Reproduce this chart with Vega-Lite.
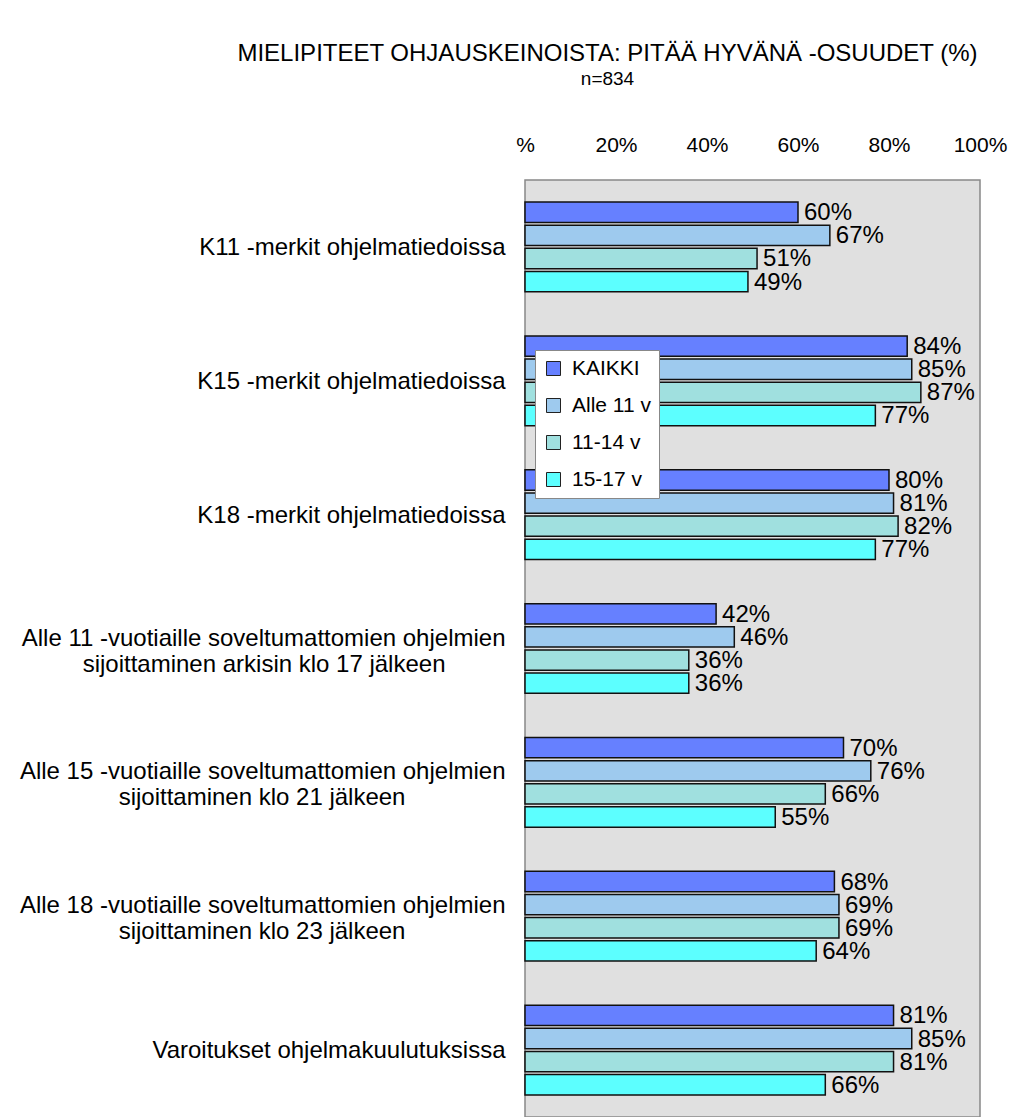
{
  "$schema": "https://vega.github.io/schema/vega-lite/v6.json",
  "autosize": {"type": "none"},
  "padding": {"left": 525, "top": 180, "right": 41, "bottom": 0},
  "width": 455,
  "height": 937,
  "background": "white",
  "title": {
    "text": "MIELIPITEET OHJAUSKEINOISTA: PITÄÄ HYVÄNÄ -OSUUDET (%)",
    "subtitle": "n=834",
    "anchor": "middle",
    "dx": -145,
    "offset": 45,
    "font": "Liberation Sans",
    "fontSize": 24,
    "fontWeight": "normal",
    "color": "#000000",
    "subtitleFont": "Liberation Sans",
    "subtitleFontSize": 19,
    "subtitleColor": "#000000",
    "subtitlePadding": 4
  },
  "config": {
    "view": {"fill": "#E0E0E0", "stroke": "#888888", "strokeWidth": 1.5},
    "font": "Liberation Sans"
  },
  "data": {
    "values": [
      {"item": "K11 -merkit ohjelmatiedoissa", "group": "KAIKKI", "value": 60},
      {"item": "K11 -merkit ohjelmatiedoissa", "group": "Alle 11 v", "value": 67},
      {"item": "K11 -merkit ohjelmatiedoissa", "group": "11-14 v", "value": 51},
      {"item": "K11 -merkit ohjelmatiedoissa", "group": "15-17 v", "value": 49},
      {"item": "K15 -merkit ohjelmatiedoissa", "group": "KAIKKI", "value": 84},
      {"item": "K15 -merkit ohjelmatiedoissa", "group": "Alle 11 v", "value": 85},
      {"item": "K15 -merkit ohjelmatiedoissa", "group": "11-14 v", "value": 87},
      {"item": "K15 -merkit ohjelmatiedoissa", "group": "15-17 v", "value": 77},
      {"item": "K18 -merkit ohjelmatiedoissa", "group": "KAIKKI", "value": 80},
      {"item": "K18 -merkit ohjelmatiedoissa", "group": "Alle 11 v", "value": 81},
      {"item": "K18 -merkit ohjelmatiedoissa", "group": "11-14 v", "value": 82},
      {"item": "K18 -merkit ohjelmatiedoissa", "group": "15-17 v", "value": 77},
      {"item": "Alle 11 -vuotiaille soveltumattomien ohjelmien|sijoittaminen arkisin klo 17 jälkeen\u00a0\u00a0\u00a0\u00a0\u00a0\u00a0\u00a0\u00a0\u00a0\u200b", "group": "KAIKKI", "value": 42},
      {"item": "Alle 11 -vuotiaille soveltumattomien ohjelmien|sijoittaminen arkisin klo 17 jälkeen\u00a0\u00a0\u00a0\u00a0\u00a0\u00a0\u00a0\u00a0\u00a0\u200b", "group": "Alle 11 v", "value": 46},
      {"item": "Alle 11 -vuotiaille soveltumattomien ohjelmien|sijoittaminen arkisin klo 17 jälkeen\u00a0\u00a0\u00a0\u00a0\u00a0\u00a0\u00a0\u00a0\u00a0\u200b", "group": "11-14 v", "value": 36},
      {"item": "Alle 11 -vuotiaille soveltumattomien ohjelmien|sijoittaminen arkisin klo 17 jälkeen\u00a0\u00a0\u00a0\u00a0\u00a0\u00a0\u00a0\u00a0\u00a0\u200b", "group": "15-17 v", "value": 36},
      {"item": "Alle 15 -vuotiaille soveltumattomien ohjelmien|sijoittaminen klo 21 jälkeen\u00a0\u00a0\u00a0\u00a0\u00a0\u00a0\u00a0\u00a0\u00a0\u00a0\u00a0\u00a0\u00a0\u00a0\u00a0\u200b", "group": "KAIKKI", "value": 70},
      {"item": "Alle 15 -vuotiaille soveltumattomien ohjelmien|sijoittaminen klo 21 jälkeen\u00a0\u00a0\u00a0\u00a0\u00a0\u00a0\u00a0\u00a0\u00a0\u00a0\u00a0\u00a0\u00a0\u00a0\u00a0\u200b", "group": "Alle 11 v", "value": 76},
      {"item": "Alle 15 -vuotiaille soveltumattomien ohjelmien|sijoittaminen klo 21 jälkeen\u00a0\u00a0\u00a0\u00a0\u00a0\u00a0\u00a0\u00a0\u00a0\u00a0\u00a0\u00a0\u00a0\u00a0\u00a0\u200b", "group": "11-14 v", "value": 66},
      {"item": "Alle 15 -vuotiaille soveltumattomien ohjelmien|sijoittaminen klo 21 jälkeen\u00a0\u00a0\u00a0\u00a0\u00a0\u00a0\u00a0\u00a0\u00a0\u00a0\u00a0\u00a0\u00a0\u00a0\u00a0\u200b", "group": "15-17 v", "value": 55},
      {"item": "Alle 18 -vuotiaille soveltumattomien ohjelmien|sijoittaminen klo 23 jälkeen\u00a0\u00a0\u00a0\u00a0\u00a0\u00a0\u00a0\u00a0\u00a0\u00a0\u00a0\u00a0\u00a0\u00a0\u00a0\u200b", "group": "KAIKKI", "value": 68},
      {"item": "Alle 18 -vuotiaille soveltumattomien ohjelmien|sijoittaminen klo 23 jälkeen\u00a0\u00a0\u00a0\u00a0\u00a0\u00a0\u00a0\u00a0\u00a0\u00a0\u00a0\u00a0\u00a0\u00a0\u00a0\u200b", "group": "Alle 11 v", "value": 69},
      {"item": "Alle 18 -vuotiaille soveltumattomien ohjelmien|sijoittaminen klo 23 jälkeen\u00a0\u00a0\u00a0\u00a0\u00a0\u00a0\u00a0\u00a0\u00a0\u00a0\u00a0\u00a0\u00a0\u00a0\u00a0\u200b", "group": "11-14 v", "value": 69},
      {"item": "Alle 18 -vuotiaille soveltumattomien ohjelmien|sijoittaminen klo 23 jälkeen\u00a0\u00a0\u00a0\u00a0\u00a0\u00a0\u00a0\u00a0\u00a0\u00a0\u00a0\u00a0\u00a0\u00a0\u00a0\u200b", "group": "15-17 v", "value": 64},
      {"item": "Varoitukset ohjelmakuulutuksissa", "group": "KAIKKI", "value": 81},
      {"item": "Varoitukset ohjelmakuulutuksissa", "group": "Alle 11 v", "value": 85},
      {"item": "Varoitukset ohjelmakuulutuksissa", "group": "11-14 v", "value": 81},
      {"item": "Varoitukset ohjelmakuulutuksissa", "group": "15-17 v", "value": 66}
    ]
  },
  "encoding": {
    "y": {
      "field": "item",
      "type": "nominal",
      "sort": null,
      "title": null,
      "scale": {"paddingInner": 0.33, "paddingOuter": 0.165},
      "axis": {
        "orient": "left",
        "domain": false,
        "ticks": false,
        "labelPadding": 20,
        "labelFont": "Liberation Sans",
        "labelFontSize": 24,
        "labelColor": "#000000",
        "labelLimit": 700,
        "labelLineHeight": 26,
        "labelOffset": {"condition": {"test": "indexof(datum.value, '|') >= 0", "value": -10}, "value": 1},
        "labelExpr": "split(datum.label, '|')"
      }
    },
    "yOffset": {
      "field": "group",
      "type": "nominal",
      "sort": ["KAIKKI", "Alle 11 v", "11-14 v", "15-17 v"],
      "scale": {"paddingInner": 0.12, "paddingOuter": 0}
    },
    "x": {
      "field": "value",
      "type": "quantitative",
      "title": null,
      "scale": {"domain": [0, 100], "nice": false, "zero": true},
      "axis": {
        "orient": "top",
        "values": [0, 20, 40, 60, 80, 100],
        "labelExpr": "datum.value == 0 ? '%' : datum.value + '%'",
        "domain": false,
        "ticks": false,
        "grid": false,
        "labelPadding": 25,
        "labelFont": "Liberation Sans",
        "labelFontSize": 21,
        "labelColor": "#000000",
        "labelFlush": false
      }
    }
  },
  "layer": [
    {
      "mark": {"type": "bar", "stroke": "#111111", "strokeWidth": 1.5},
      "encoding": {
        "color": {
          "field": "group",
          "type": "nominal",
          "scale": {
            "domain": ["KAIKKI", "Alle 11 v", "11-14 v", "15-17 v"],
            "range": ["#6680FF", "#9ECAEE", "#A0E0DF", "#5CFFFF"]
          },
          "legend": {
            "title": null,
            "orient": "none",
            "legendX": 10,
            "legendY": 170,
            "fillColor": "#FFFFFF",
            "strokeColor": "#888888",
            "padding": 8,
            "symbolType": "square",
            "symbolSize": 196,
            "symbolStrokeColor": "#222222",
            "symbolStrokeWidth": 1,
            "labelFont": "Liberation Sans",
            "labelFontSize": 21,
            "labelColor": "#000000",
            "rowPadding": 15,
            "labelOffset": 8
          }
        }
      }
    },
    {
      "mark": {
        "type": "text",
        "align": "left",
        "baseline": "middle",
        "dx": 6,
        "dy": 1,
        "font": "Liberation Sans",
        "fontSize": 24,
        "color": "#000000",
        "text": {"expr": "datum.value + '%'"}
      },
      "encoding": {}
    }
  ]
}
